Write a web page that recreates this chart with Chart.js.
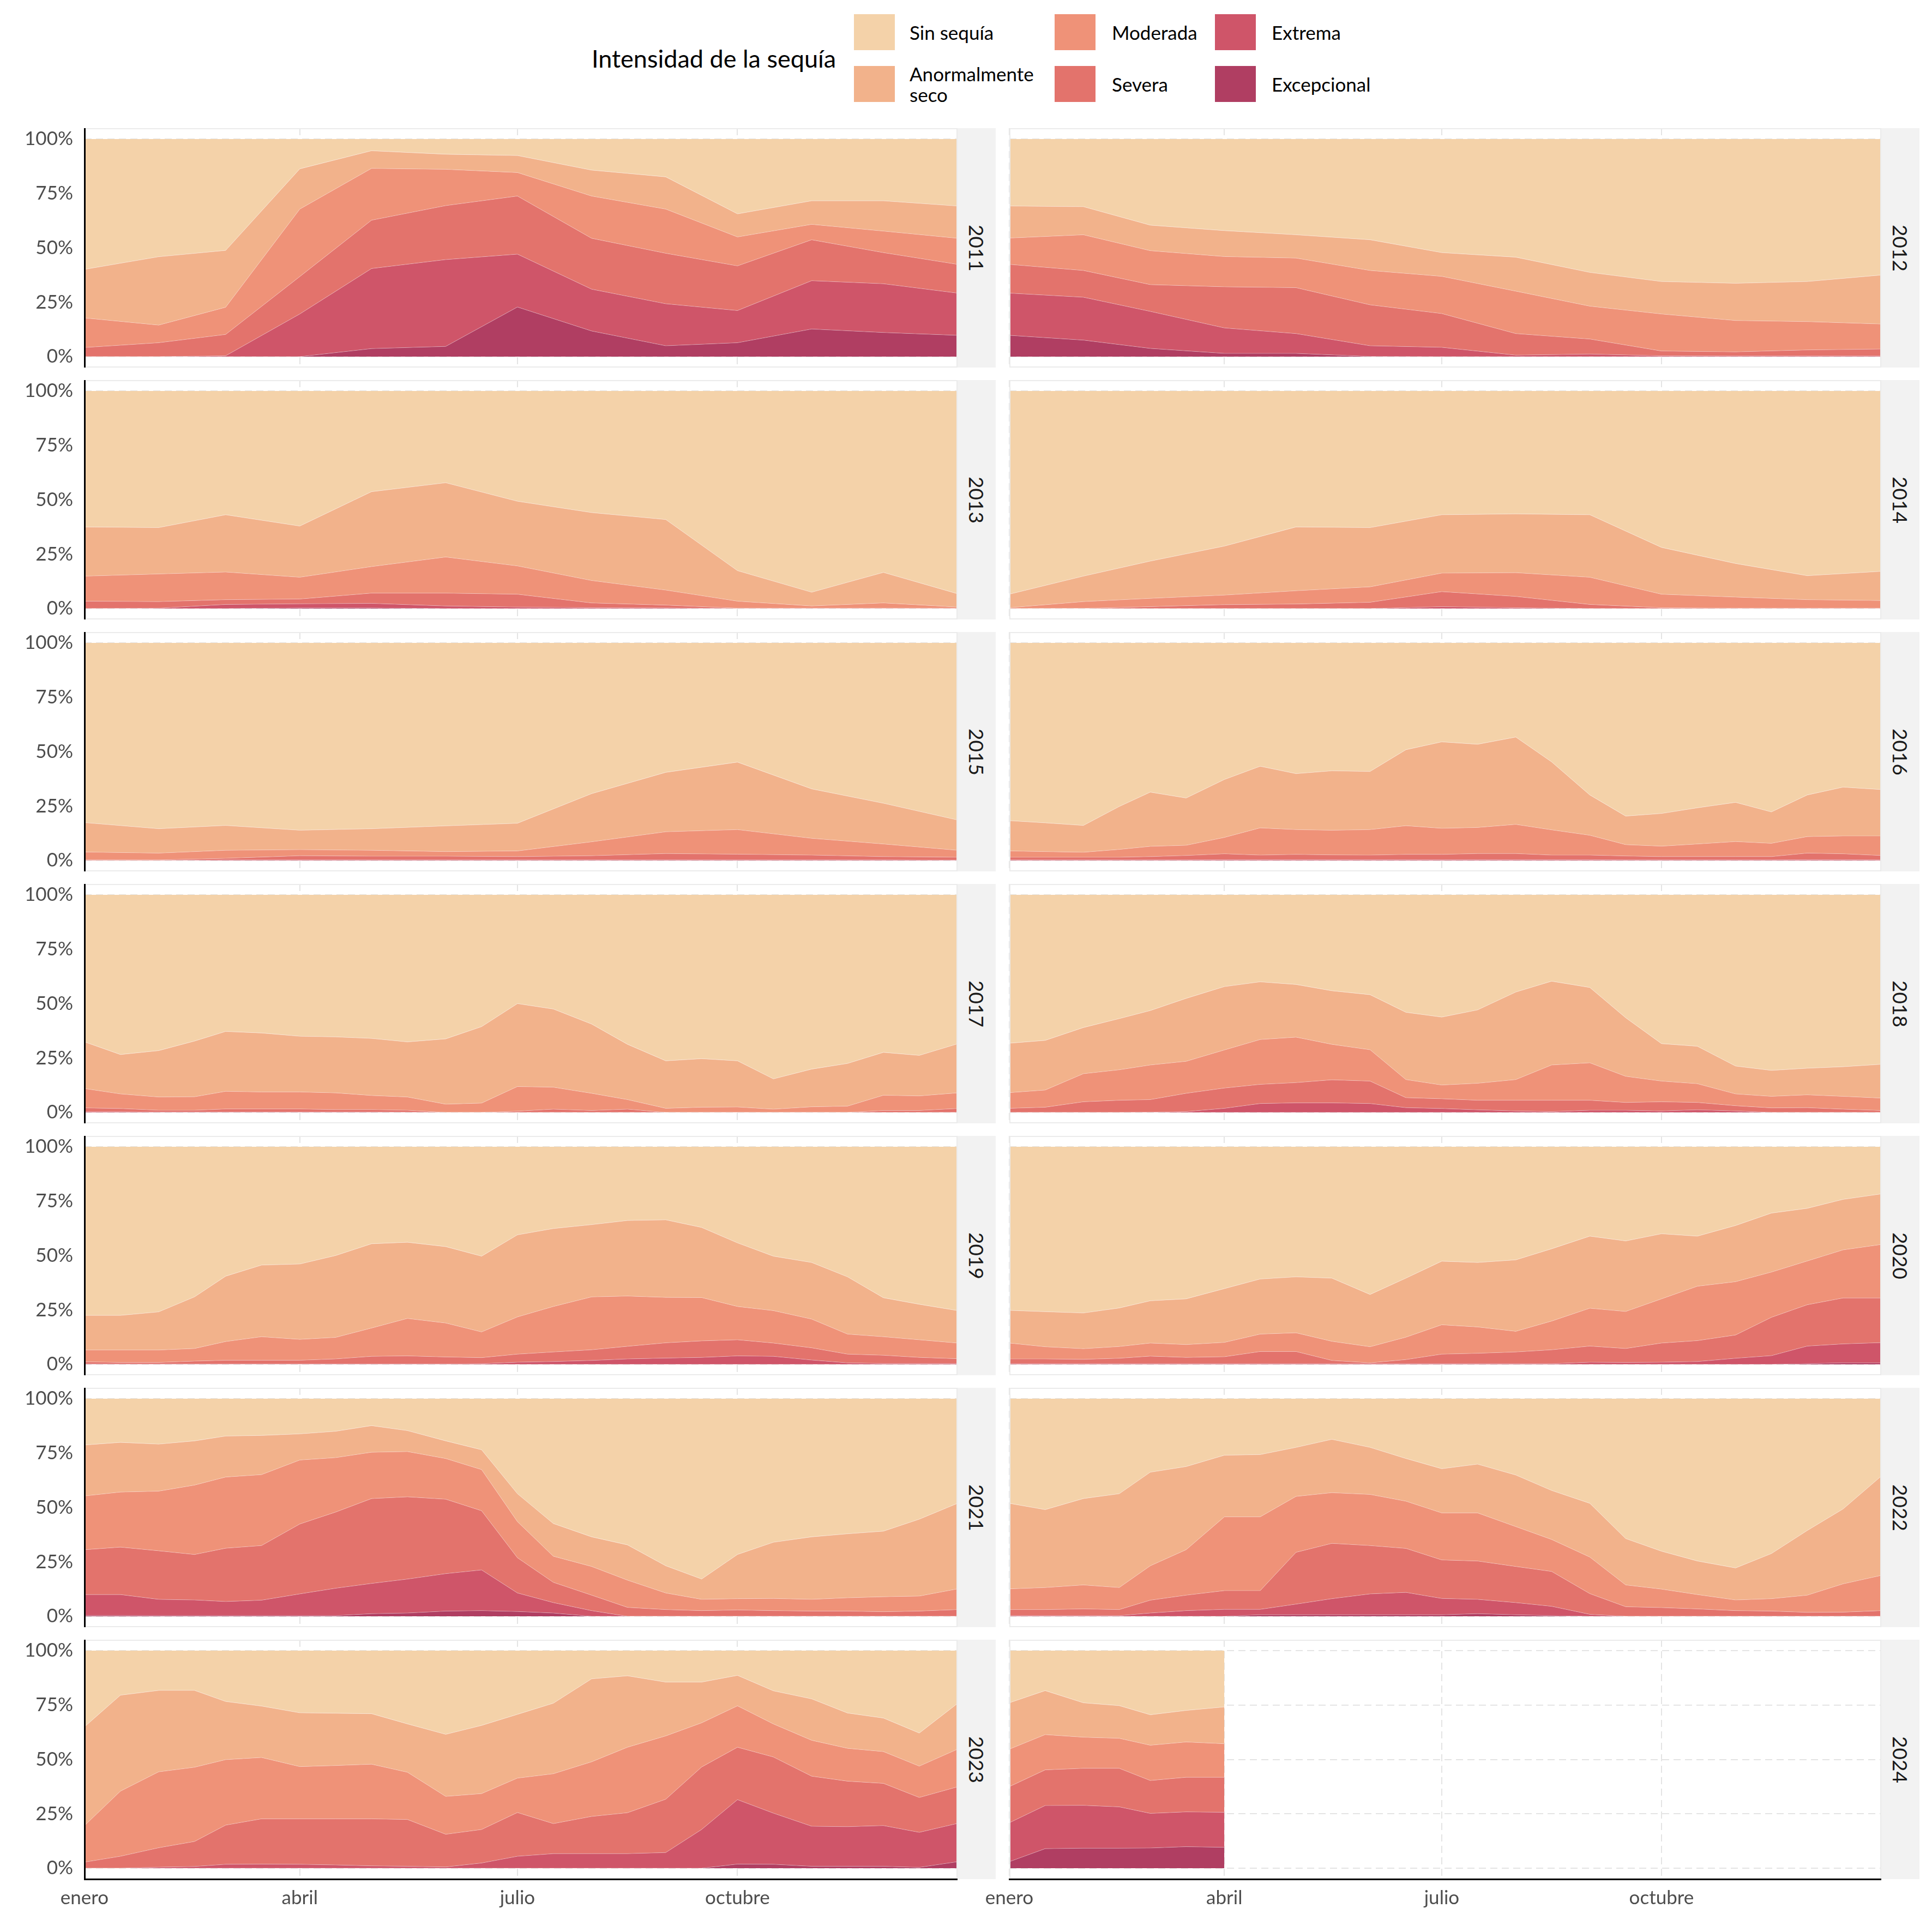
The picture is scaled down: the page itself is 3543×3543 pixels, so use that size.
<!DOCTYPE html>
<html><head><meta charset="utf-8">
<script src="https://cdn.jsdelivr.net/npm/chart.js@4"></script>
<style>
html,body{margin:0;padding:0;background:#fff;}
body{width:3543px;height:3543px;position:relative;overflow:hidden;font-family:Lato,'Noto Sans',sans-serif;}
canvas{position:absolute;}
.strip{position:absolute;background:#f2f2f2;display:flex;align-items:center;justify-content:center;}
.strip span{writing-mode:vertical-rl;font-size:37px;color:#1a1a1a;line-height:1;}
.key{position:absolute;width:75px;height:66px;}
.lab{position:absolute;font-size:35px;color:#000;line-height:38px;white-space:pre-line;}
.ttl{position:absolute;font-size:45px;color:#000;line-height:54px;white-space:nowrap;}
</style></head><body>
<script>
// ---------- DATA ----------
const years = [2011,2012,2013,2014,2015,2016,2017,2018,2019,2020,2021,2022,2023,2024];
const monthDays = [0,31,59,90,120,151,181,212,243,273,304,334,365];
const biweekDays = [0,15,31,46,59,74,90,105,120,135,151,166,181,196,212,227,243,258,273,288,304,319,334,349,365];
const days2024 = [0,15,31,46,59,74,90];
const xDays = [monthDays,monthDays,monthDays,monthDays,monthDays,biweekDays,biweekDays,biweekDays,biweekDays,biweekDays,biweekDays,biweekDays,biweekDays,days2024];

const categories = ['Sin sequía','Anormalmente seco','Moderada','Severa','Extrema','Excepcional'];
const legendLabels = ['Sin sequía','Anormalmente\nseco','Moderada','Severa','Extrema','Excepcional'];
const xTickDays = [0,90,181,273];
const xTickLabels = ['enero','abril','julio','octubre'];
const yTickVals = [0,25,50,75,100];
const topPct = 100;

// cumulative % of area: D0-D4 (anormalmente seco or worse)
const anormal = [
 [40.1,45.9,48.8,86.3,94.6,93.0,92.4,85.7,82.6,65.6,71.6,71.6,69.2],
 [69.2,68.9,60.4,57.9,56.0,53.7,47.8,45.7,38.7,34.5,33.7,34.5,37.5],
 [37.5,37.2,43.1,37.9,53.7,57.8,49.3,44.1,40.9,17.4,7.5,16.6,6.8],
 [6.6,14.9,21.8,28.7,37.5,37.2,43.1,43.5,43.1,28.1,20.7,15.1,17.1],
 [17.4,14.6,16.1,13.9,14.6,15.9,17.1,30.7,40.5,45.2,32.9,26.3,18.6],
 [18.3,17.3,16.1,24.8,31.4,28.7,37.2,43.3,39.9,41.2,40.9,50.9,54.5,53.4,56.7,45.3,30.1,20.4,21.6,24.2,26.7,22.3,30.1,33.7,32.6],
 [32.4,26.6,28.4,32.8,37.2,36.5,35.0,34.7,34.0,32.4,33.8,39.4,50.0,47.5,40.6,31.3,23.7,24.7,23.7,15.4,19.9,22.5,27.6,26.2,31.5],
 [31.8,33.1,39.0,43.1,46.8,52.4,57.8,60.0,58.8,55.9,54.1,46.0,43.8,47.1,55.3,60.3,57.4,43.5,31.6,30.4,21.3,19.3,20.3,21.0,22.1],
 [22.5,22.5,24.1,31.0,40.5,45.6,46.1,50.0,55.4,56.1,54.1,49.7,59.5,62.4,64.2,66.1,66.4,62.9,55.8,49.7,46.8,40.2,30.6,27.6,24.7],
 [24.8,24.2,23.6,25.9,29.2,30.1,34.8,39.2,40.2,39.6,32.1,39.6,47.4,46.8,48.0,53.1,58.9,56.7,60.0,58.9,63.8,69.5,71.7,75.8,78.3],
 [78.7,79.9,79.1,80.6,82.8,83.1,83.8,85.0,87.6,85.3,80.6,76.5,56.3,42.6,36.5,32.8,23.2,17.1,28.4,34.0,36.5,37.9,39.1,44.6,51.9],
 [51.9,49.0,54.1,56.3,66.2,68.8,74.0,74.3,77.6,81.3,77.6,72.5,67.8,69.9,64.9,57.8,51.9,35.7,29.9,25.4,22.2,28.8,39.4,49.3,64.4],
 [65.0,79.5,81.7,81.7,76.6,74.5,71.4,71.2,71.0,66.3,61.5,65.6,70.7,75.8,87.0,88.4,85.5,85.5,88.6,81.5,77.8,71.3,69.0,62.1,75.7],
 [76.0,81.6,76.0,74.7,70.5,72.5,74.1]
];
// D1-D4 (moderada or worse)
const moderada = [
 [17.8,14.5,22.7,67.8,86.5,86.1,84.6,73.8,67.8,55.0,60.8,57.7,54.4],
 [54.5,56.0,48.7,46.0,45.3,39.6,36.9,30.1,23.2,19.6,16.6,16.1,15.0],
 [14.9,15.9,16.8,14.4,19.3,23.7,19.6,12.9,8.5,3.4,1.2,2.6,0.7],
 [0.4,3.2,4.7,6.2,8.2,10.0,16.3,16.5,14.4,6.6,5.3,4.1,3.7],
 [3.9,3.4,4.7,5.0,4.7,4.1,4.4,8.6,13.2,14.2,10.2,7.6,4.7],
 [4.4,4.1,3.8,5.1,6.5,7.0,10.6,15.0,14.2,13.9,14.2,16.0,14.8,15.2,16.6,14.1,11.6,7.3,6.6,7.6,8.7,7.9,11.0,11.3,11.3],
 [11.0,8.5,7.1,7.2,9.7,9.4,9.4,9.0,7.8,7.1,3.8,4.3,11.9,11.6,8.8,5.9,1.9,2.4,2.5,1.5,2.6,2.9,7.9,7.6,9.0],
 [9.1,10.3,17.8,19.6,21.8,23.5,28.7,33.5,34.6,31.3,28.8,15.1,12.6,13.4,15.1,21.8,22.8,16.6,14.4,13.2,8.5,7.4,8.1,7.4,6.6],
 [6.6,6.6,6.6,7.3,10.5,12.7,11.5,12.4,16.7,21.1,19.0,14.9,21.8,26.6,31.0,31.4,30.8,30.7,26.6,24.7,20.8,13.9,12.7,11.3,9.8],
 [9.8,8.1,7.2,8.2,9.8,9.1,10.1,13.9,14.5,10.6,8.1,12.5,18.2,17.2,15.2,19.9,25.8,24.3,30.1,35.9,38.0,42.4,47.5,52.6,55.1],
 [55.3,57.1,57.5,60.3,64.0,65.1,71.8,72.9,75.4,75.7,72.5,67.4,43.5,27.6,22.9,16.6,10.7,7.8,8.1,8.2,7.8,8.5,9.0,9.3,12.6],
 [12.6,13.2,14.4,13.2,23.2,30.6,45.7,45.7,55.1,56.8,56.0,52.9,47.5,47.5,41.2,35.3,27.2,14.4,12.5,10.0,7.5,8.1,9.7,14.9,18.8],
 [19.6,35.4,44.3,46.4,49.9,50.9,46.7,47.2,47.8,44.1,33.0,34.3,41.4,43.4,48.9,55.6,60.8,66.8,74.6,66.3,58.8,55.1,53.6,46.9,54.7],
 [54.7,61.4,60.2,59.7,56.5,58.0,57.2]
];
// D2-D4 (severa or worse)
const severa = [
 [4.2,6.4,10.2,36.8,62.7,69.4,73.8,54.4,47.5,41.7,53.7,47.8,42.4],
 [42.4,39.6,33.1,32.1,31.7,23.8,19.8,10.6,8.1,2.6,2.2,3.1,3.5],
 [3.4,3.2,4.1,4.4,7.1,7.1,6.6,2.6,1.6,0.2,0.2,0.2,0.2],
 [0,0.1,0.9,1.8,2.1,2.9,7.8,5.6,1.9,0.4,0.2,0.2,0.2],
 [0.3,0.3,1.0,2.2,2.0,2.0,1.8,2.2,3.2,2.9,2.5,1.8,1.5],
 [1.5,1.5,1.5,1.5,1.8,2.3,3.1,2.5,2.8,2.6,2.5,2.8,2.8,3.2,3.2,2.5,2.5,2.1,1.8,1.8,1.8,1.8,3.4,3.1,2.3],
 [2.1,1.8,1.0,1.0,1.6,1.6,1.6,1.3,1.3,1.0,0,0,0.6,1.5,0.9,1.5,0,0,0,0,0,0,0.9,0.9,1.8],
 [1.9,2.4,4.9,5.6,5.9,8.8,11.2,12.9,13.7,15.0,14.4,6.8,6.3,5.6,5.6,5.6,5.6,4.6,4.9,4.6,3.1,2.1,2.2,1.5,0.9],
 [1.2,0.9,0.9,1.5,1.9,1.9,1.9,2.5,3.7,3.9,3.4,3.1,4.7,5.7,6.7,8.3,9.9,10.8,11.3,9.8,7.6,4.7,4.2,3.2,2.6],
 [2.5,2.5,2.3,2.8,3.8,3.2,3.5,5.9,5.9,1.8,0.7,2.2,4.7,5.1,5.7,6.7,8.4,7.3,9.8,10.9,13.5,21.6,27.4,30.5,30.5],
 [30.6,31.8,30.1,28.4,31.3,32.5,42.4,47.9,54.1,54.9,53.8,48.5,26.9,15.6,9.7,4.1,3.1,2.6,2.9,2.6,2.4,2.4,2.1,2.4,3.1],
 [3.1,3.1,3.4,3.1,7.4,9.7,11.8,11.8,29.4,33.5,32.5,31.2,25.9,25.4,22.9,20.6,10.4,4.4,4.0,3.4,2.6,2.4,1.8,1.9,2.6],
 [2.8,5.5,9.4,12.3,19.8,22.7,22.7,22.7,22.7,22.4,15.6,17.8,25.6,20.5,23.8,25.5,31.7,46.5,55.6,51.1,42.3,40.0,39.0,32.5,37.4],
 [37.5,45.2,45.9,45.9,40.3,41.8,41.8]
];
// D3-D4 (extrema or worse)
const extrema = [
 [0,0,0.4,19.6,40.5,44.6,47.1,31.0,24.3,21.2,34.9,33.5,29.2],
 [29.2,27.3,20.8,13.2,10.6,5.0,4.3,0.7,1.2,0.4,0.3,0.3,0.3],
 [0,0.2,1.9,2.2,2.4,1.2,0.7,0.4,0.3,0,0,0,0],
 [0,0,0,0,0,0,0.9,0.4,0,0,0,0,0],
 [0,0,0.3,0.3,0.3,0.3,0.3,0.3,0.3,0.3,0.3,0.3,0.2],
 [0.3,0.3,0.3,0.3,0.3,0.3,0.4,0.4,0.4,0.4,0.4,0.4,0.4,0.4,0.4,0.4,0.4,0.3,0.3,0.3,0.3,0.3,0.4,0.4,0.3],
 [0.3,0.3,0.2,0.2,0.2,0.2,0.2,0.2,0.2,0.1,0,0,0,0,0,0,0,0,0,0,0,0,0,0,0],
 [0,0,0,0,0.1,0.4,1.9,4.1,4.4,4.4,4.1,2.2,1.8,1.2,0.7,0.4,1.0,1.0,0.7,1.2,0.7,0,0,0,0],
 [0.2,0.2,0.2,0.2,0.2,0.2,0.2,0.2,0.2,0.2,0.2,0.3,1.0,1.3,1.8,2.5,2.9,3.2,3.9,3.7,2.0,0.7,0.4,0.4,0.4],
 [0.3,0.3,0.3,0.3,0.3,0.3,0.3,0.3,0.3,0.3,0.3,0.3,0.3,0.3,0.3,0.3,1.0,0.9,1.0,1.3,2.8,4.0,8.4,9.4,10.0],
 [10.0,10.0,7.8,7.5,6.8,7.4,10.3,12.9,15.1,17.1,19.6,21.3,10.7,6.3,2.6,0,0,0,0,0,0,0,0,0,0],
 [0.3,0.3,0.3,0.3,1.5,2.6,3.2,3.2,5.6,8.1,10.3,11.0,8.2,7.8,6.3,4.6,0.9,0,0,0,0,0,0,0,0],
 [0,0,0.5,0.8,1.8,1.9,1.8,1.5,1.1,0.9,0.6,2.4,5.5,6.7,6.7,6.7,7.2,17.8,31.5,25.3,19.3,19.1,19.6,16.5,20.6],
 [20.9,28.8,28.9,28.2,25.2,25.9,25.7]
];
// D4 (excepcional)
const excepcional = [
 [0,0,0,0,3.7,4.7,22.8,11.8,5.0,6.4,12.7,11.1,9.8],
 [9.8,7.6,3.8,1.5,1.5,0.1,0,0,0,0,0,0,0],
 [0,0,0,0.3,0.3,0,0,0,0,0,0,0,0],
 [0,0,0,0,0,0,0,0,0,0,0,0,0],
 [0,0,0,0,0,0,0,0,0,0,0,0,0],
 [0,0,0,0,0,0,0,0,0,0,0,0,0,0,0,0,0,0,0,0,0,0,0,0,0],
 [0,0,0,0,0,0,0,0,0,0,0,0,0,0,0,0,0,0,0,0,0,0,0,0,0],
 [0,0,0,0,0,0,0,0,0,0,0,0,0,0,0,0,0,0,0,0,0,0,0,0,0],
 [0,0,0,0,0,0,0,0,0,0,0,0,0,0,0,0,0,0,0,0,0,0,0,0,0],
 [0,0,0,0,0,0,0,0,0,0,0,0,0,0,0,0,0,0,0,0,0,0,0.3,0.7,0.7],
 [0.4,0.4,0.3,0.3,0.3,0.3,0.3,0.3,1.2,1.5,2.4,2.6,2.2,1.5,0,0,0,0,0,0,0,0,0,0,0],
 [0,0,0,0,0,0,0,0.7,0.7,0.7,0.7,0.7,0.7,1.2,0.7,0.3,0,0,0,0,0,0,0,0,0],
 [0,0,0,0,0,0,0,0,0,0,0,0,0,0,0,0,0,0,1.9,1.8,0.9,0.9,0.9,0.4,3.0],
 [3.0,9.0,9.2,9.2,9.3,9.9,9.6]
];

// ---------- STYLE ----------
const colors = ['#F4D2A9','#F2B28B','#EF9278','#E3736C','#CF5569','#B03E62'];
const gridColor = '#e4e4e4';
const tickColor = '#4d4d4d';

// ---------- LEGEND (HTML) ----------
function addEl(cls, css, text){
  const d = document.createElement('div'); d.className = cls;
  Object.assign(d.style, css); if (text !== undefined) d.textContent = text;
  document.body.appendChild(d); return d;
}
addEl('ttl', {left:'1085px', top:'80px'}, 'Intensidad de la sequía');
const keyX = [1566, 1934, 2228], keyY = [26, 121], labX = [1668, 2039, 2332];
categories.forEach((c, k) => {
  const col = Math.floor(k / 2), row = k % 2;
  addEl('key', {left: keyX[col]+'px', top: keyY[row]+'px', background: colors[k]});
  const lines = legendLabels[k].split('\n').length;
  const h = lines * 38;
  addEl('lab', {left: labX[col]+'px', top: (keyY[row] + 33 - h/2)+'px'}, legendLabels[k]);
});

// ---------- PANELS ----------
const panelPlugin = {
  id: 'panelFrame',
  afterDraw(chart, args, opts) {
    const {ctx, chartArea: a} = chart;
    ctx.save();
    ctx.strokeStyle = '#ebebeb'; ctx.lineWidth = 2;
    ctx.strokeRect(a.left + 1, a.top + 1, a.right - a.left - 2, a.bottom - a.top - 2);
    ctx.strokeStyle = '#000'; ctx.lineWidth = 3;
    if (opts.leftAxis) {
      ctx.beginPath(); ctx.moveTo(a.left + 0.5, a.top); ctx.lineTo(a.left + 0.5, a.bottom + (opts.bottomAxis ? 2 : 0)); ctx.stroke();
    }
    if (opts.bottomAxis) {
      ctx.beginPath(); ctx.moveTo(a.left - 1, a.bottom + 0.5); ctx.lineTo(a.right, a.bottom + 0.5); ctx.stroke();
    }
    ctx.restore();
  }
};

function pts(i, arr) { return xDays[i].map((x, k) => ({x: x, y: arr[i][k]})); }

function makePanel(i) {
  const col = i % 2, row = Math.floor(i / 2);
  const isLeft = col === 0, isBottom = row === 6;
  const plotLeft = isLeft ? 155 : 1851;
  const plotW = isLeft ? 1601 : 1599;
  const top = 235 + row * 462;
  const plotH = 439;
  const axisH = isBottom ? 80 : 0;
  const axisW = isLeft ? 155 : 0;
  const padL = isLeft ? 0 : 70;
  const canvas = document.createElement('canvas');
  const cw = padL + axisW + plotW, ch = plotH + axisH;
  canvas.width = cw; canvas.height = ch;
  Object.assign(canvas.style, {left: (plotLeft - axisW - padL) + 'px', top: top + 'px', width: cw + 'px', height: ch + 'px'});
  document.body.appendChild(canvas);

  // strip
  const s = addEl('strip', {left: (plotLeft + plotW) + 'px', top: top + 'px', width: '70px', height: plotH + 'px'});
  const sp = document.createElement('span'); sp.textContent = String(years[i]); s.appendChild(sp);

  const edge = 'rgba(255,255,255,0.35)';
  const ds = [
    {label: categories[5], data: pts(i, excepcional), backgroundColor: colors[5], fill: 'origin'},
    {label: categories[4], data: pts(i, extrema), backgroundColor: colors[4], fill: '-1'},
    {label: categories[3], data: pts(i, severa), backgroundColor: colors[3], fill: '-1'},
    {label: categories[2], data: pts(i, moderada), backgroundColor: colors[2], fill: '-1'},
    {label: categories[1], data: pts(i, anormal), backgroundColor: colors[1], fill: '-1'},
    {label: categories[0], data: pts(i, anormal), backgroundColor: colors[0], fill: {value: topPct}}
  ].map(d => Object.assign(d, {borderColor: edge, borderWidth: 1, pointRadius: 0, tension: 0}));

  new Chart(canvas, {
    type: 'line',
    data: {datasets: ds},
    plugins: [panelPlugin],
    options: {
      responsive: false, animation: false, devicePixelRatio: 1, events: [],
      layout: {padding: {left: padL, right: 0, top: 0, bottom: 0}},
      plugins: {legend: {display: false}, tooltip: {enabled: false}, panelFrame: {leftAxis: isLeft, bottomAxis: isBottom}},
      scales: {
        x: {
          type: 'linear', min: 0, max: 365,
          afterBuildTicks: sc => { sc.ticks = xTickDays.map(v => ({value: v})); },
          afterFit: sc => { sc.height = axisH; sc.paddingLeft = 0; sc.paddingRight = 0; },
          grid: {color: gridColor, lineWidth: 2, drawTicks: false},
          border: {display: false, dash: [13, 8]},
          ticks: {display: isBottom, padding: 14, color: tickColor, font: {family: 'Lato', size: 35},
                  maxRotation: 0, autoSkip: false, callback: (v, idx) => xTickLabels[idx]}
        },
        y: {
          type: 'linear', min: -5, max: 105,
          afterBuildTicks: sc => { sc.ticks = yTickVals.map(v => ({value: v})); },
          afterFit: sc => { sc.width = axisW; sc.paddingTop = 0; sc.paddingBottom = 0; },
          grid: {color: gridColor, lineWidth: 2, drawTicks: false},
          border: {display: false, dash: [13, 8]},
          ticks: {display: isLeft, padding: 21, color: tickColor, font: {family: 'Lato', size: 35},
                  callback: v => v + '%'}
        }
      }
    }
  });
}

function drawAll() { years.forEach((y, i) => makePanel(i)); }
if (document.fonts && document.fonts.load) {
  Promise.all([document.fonts.load('35px Lato'), document.fonts.load('45px Lato')]).then(drawAll, drawAll);
} else { drawAll(); }
</script></body></html>
